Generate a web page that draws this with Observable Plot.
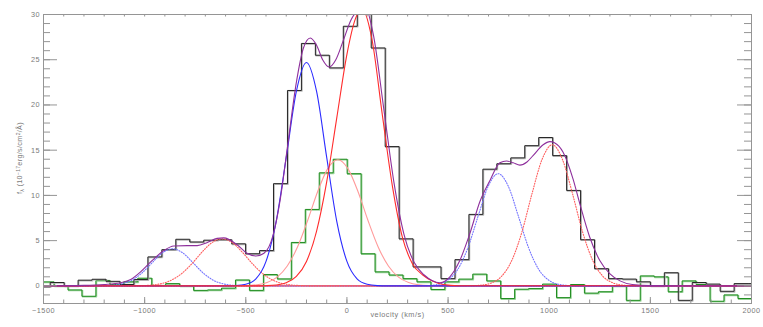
<!DOCTYPE html>
<html><head><meta charset="utf-8">
<script src="https://cdn.jsdelivr.net/npm/d3@7"></script>
<script src="https://cdn.jsdelivr.net/npm/@observablehq/plot@0.6"></script>
<style>body{margin:0;background:#fff} svg{display:block}</style>
</head><body><div id="chart"></div>
<script>
// ---- axis ticks ----
const xTicks = [-1500, -1000, -500, 0, 500, 1000, 1500, 2000];
const xMinorTicks = d3.range(-1500, 2001, 100);
const yTicks = [0, 5, 10, 15, 20, 25, 30];
const yMinorTicks = d3.range(-1, 31, 1);

// ---- observed spectrum (black histogram): bin edges (km/s) and flux ----
const blackEdges = [-1536,-1467,-1398,-1329,-1260,-1191,-1122,-1053,-984,-915,-846,-777,-708,-639,-570,-501,-432,-363,-294,-225,-156,-87,-18,51,120,189,258,327,396,465,534,603,672,741,810,879,948,1017,1086,1155,1224,1293,1362,1431,1500,1569,1638,1707,1776,1845,1914,1983,2052];
const blackFlux = [-0.1,0.37,0.0,0.63,0.73,0.5,0.15,0.7,3.2,4.0,5.15,4.85,5.05,5.1,4.65,3.55,3.9,11.3,21.6,26.8,25.5,24.1,28.7,31,26.3,15.4,5.2,2.1,2.1,0.8,2.9,7.9,12.9,13.5,14.15,15.5,16.4,14.4,10.55,5.1,1.9,0.8,0.75,0.45,0.0,1.45,-1.6,0.37,0.2,-0.6,0.25,0.25];

// ---- second spectrum (green histogram) ----
const greenEdges = [-1517,-1448,-1379,-1310,-1241,-1172,-1103,-1034,-965,-896,-827,-758,-689,-620,-551,-482,-413,-344,-275,-206,-137,-68,1,70,139,208,277,346,415,484,553,622,691,760,829,898,967,1036,1105,1174,1243,1312,1381,1450,1519,1588,1657,1726,1795,1864,1933,2002];
const greenFlux = [0.44,0.0,-0.45,-1.15,0.6,0.15,0.45,0.85,0.05,0.25,0.0,-0.5,-0.45,-0.25,0.65,-0.5,1.25,0.77,4.8,8.45,12.5,14.0,12.4,3.55,1.55,1.2,0.8,0.45,-0.4,0.45,0.75,1.3,0.55,-1.4,-0.37,-0.3,0.2,-1.3,0.15,-0.8,-0.65,0.0,-1.6,1.1,1.0,-0.65,0.55,0.15,-1.7,-1.0,-1.4];

// ---- fitted components ----
const blueSolidV = [-1500,-600,-550,-500,-450,-400,-350,-300,-250,-200,-150,-100,-50,0,50,100,150,200,2000];
const blueSolidF = [0,0,0.03,0.17,0.77,2.7,7.1,14.2,21.5,24.7,21.5,14.2,7.1,2.7,0.77,0.17,0.03,0,0];

const redSolidV = [-1500,-450,-400,-350,-300,-250,-200,-150,-100,-50,0,40,75,125,175,225,275,325,375,425,475,550,2000];
const redSolidF = [0,0,0.02,0.09,0.34,1.04,2.7,6.06,11.5,18.6,25.6,29.4,30.6,27.1,18.9,11.0,5.3,2.4,1.2,0.5,0.15,0.02,0];

const pinkSolidV = [-1500,-550,-495,-445,-395,-345,-295,-245,-195,-145,-95,-45,5,55,105,155,205,255,305,355,405,500,2000];
const pinkSolidF = [0,0,0.035,0.12,0.37,0.97,2.2,4.27,7.17,10.4,12.96,13.95,12.96,10.4,7.17,4.27,2.2,0.97,0.37,0.12,0.035,0,0];

const blueDotLeftV = [-1500,-1262,-1212,-1162,-1112,-1062,-1012,-962,-912,-862,-812,-762,-712,-662,-612,-562,-512,-462,2000];
const blueDotLeftF = [0,0,0.02,0.06,0.23,0.64,1.45,2.58,3.65,4.1,3.65,2.58,1.45,0.64,0.23,0.06,0.02,0,0];

const redDotLeftV = [-1500,-1067,-1017,-967,-917,-867,-817,-767,-717,-667,-617,-567,-517,-467,-417,-367,-317,-267,-217,-167,2000];
const redDotLeftF = [0,0,0.024,0.085,0.25,0.64,1.36,2.44,3.72,4.78,5.2,4.78,3.72,2.44,1.36,0.64,0.25,0.085,0.024,0,0];

const blueDotRightV = [-1500,350,398,448,498,548,598,648,698,748,798,848,898,948,998,1048,1098,1150,2000];
const blueDotRightF = [0,0,0.034,0.16,0.62,1.82,4.21,7.67,11.0,12.4,11.0,7.67,4.21,1.82,0.62,0.16,0.034,0,0];

const redDotRightV = [-1500,560,615,665,715,765,815,865,915,965,1015,1065,1115,1165,1215,1265,1315,1365,1415,1470,2000];
const redDotRightF = [0,0,0.016,0.08,0.33,1.07,2.81,5.95,10.2,14.0,15.6,14.0,10.2,5.95,2.81,1.07,0.33,0.08,0.016,0,0];

const totalV = [-1500,-1300,-1200,-1119,-1069,-1020,-970,-905,-856,-790,-740,-690,-642,-609,-543,-494,-450,-410,-365,-330,-296,-250,-215,-181,-150,-120,-88,-55,-20,20,49,82,132,182,232,282,332,382,420,460,509,558,608,657,707,756,789,822,855,890,920,970,1003,1028,1068,1118,1151,1200,1250,1299,1350,1411,1500,2000];
const totalF = [0,0.05,0.15,0.35,0.7,1.55,2.65,3.9,4.4,4.45,4.45,4.8,5.25,5.3,4.55,3.6,3.3,3.6,5.6,9.5,15.0,22.5,26.3,27.4,26.6,25.0,24.2,25.0,27.0,29.4,30.4,31.2,27.6,19.6,11.5,5.7,2.6,1.2,0.6,0.35,1.0,2.8,5.8,9.3,11.65,13.6,13.8,13.6,13.35,13.7,14.4,15.6,15.95,15.8,14.8,11.8,9.1,5.4,2.8,1.36,0.55,0.15,0.03,0];

// ---- build tables ----
const steps = (edges, vals) => vals.map((f, i) => ({v: edges[i], f})).concat([{v: edges[vals.length], f: vals[vals.length - 1]}]);
const pts = (V, F) => V.map((v, i) => ({v, f: F[i]}));

const blackRows = steps(blackEdges, blackFlux);
const greenRows = steps(greenEdges, greenFlux);

const curve = (V, F, stroke, extra = {}) =>
  Plot.line(pts(V, F), {x: "v", y: "f", stroke, strokeWidth: 1.1, curve: "monotone-x", clip: true, ...extra});

const dotted = {strokeDasharray: "1 1.6", strokeWidth: 1.1};
const tickColor = "#959595";
const textColor = "#7a7a7a";

// frame size (for tick lengths measured in pixels)
const W = 763, H = 327, mL = 43, mR = 12, mT = 14, mB = 24;
const fw = W - mL - mR, fh = H - mT - mB;

const chart = Plot.plot({
  width: W, height: H,
  marginLeft: mL, marginRight: mR, marginTop: mT, marginBottom: mB,
  x: {domain: [-1500, 2000], label: null},
  y: {domain: [-1.95, 30], label: null},
  style: {fontFamily: "'Liberation Sans', Arial, sans-serif", fontSize: "7.3px", color: textColor, background: "#fff", letterSpacing: "0.5px"},
  marks: [
    Plot.ruleY([0], {stroke: "#ff3030", strokeWidth: 1}),
    Plot.line(greenRows, {x: "v", y: "f", curve: "step-after", stroke: "#9bd49b", strokeWidth: 1.5, dx: 0.6, dy: 0.6, clip: true}),
    Plot.line(greenRows, {x: "v", y: "f", curve: "step-after", stroke: "#1f8c1f", strokeWidth: 1, clip: true}),
    Plot.line(blackRows, {x: "v", y: "f", curve: "step-after", stroke: "#b8b8b8", strokeWidth: 1.5, dx: 0.6, dy: 0.6, clip: true}),
    Plot.line(blackRows, {x: "v", y: "f", curve: "step-after", stroke: "#262626", strokeWidth: 1, clip: true}),
    curve(pinkSolidV, pinkSolidF, "#ff9a9a"),
    curve(blueDotLeftV, blueDotLeftF, "#7474ff", dotted),
    curve(blueDotRightV, blueDotRightF, "#7474ff", dotted),
    curve(redDotLeftV, redDotLeftF, "#ff5c5c", dotted),
    curve(redDotRightV, redDotRightF, "#ff5c5c", dotted),
    curve(blueSolidV, blueSolidF, "#2b2bff"),
    curve(redSolidV, redSolidF, "#ff2b2b"),
    curve(totalV, totalF, "#8e2f9c"),
    Plot.frame({stroke: tickColor}),
    // inward ticks (bottom, top, left, right)
    Plot.tickX(xTicks, {x: d => d, stroke: tickColor, insetTop: fh - 6}),
    Plot.tickX(xMinorTicks, {x: d => d, stroke: tickColor, insetTop: fh - 3.5}),
    Plot.tickX(xMinorTicks, {x: d => d, stroke: tickColor, insetBottom: fh - 2.5}),
    Plot.tickY(yTicks, {y: d => d, stroke: tickColor, insetRight: fw - 14}),
    Plot.tickY(yMinorTicks, {y: d => d, stroke: tickColor, insetRight: fw - 7}),
    Plot.tickY(yTicks, {y: d => d, stroke: tickColor, insetLeft: fw - 14}),
    Plot.tickY(yMinorTicks, {y: d => d, stroke: tickColor, insetLeft: fw - 7}),
    // tick labels
    Plot.axisX(xTicks, {anchor: "bottom", tickSize: 0, tickPadding: 4, label: null, fill: textColor, tickFormat: d3.format("d")}),
    Plot.axisY(yTicks, {anchor: "left", tickSize: 0, tickPadding: 3.5, label: null, fill: textColor, tickFormat: d3.format("d")}),
    Plot.text(["velocity (km/s)"], {frameAnchor: "bottom", dy: 13, fill: textColor})
  ]
});

document.getElementById("chart").appendChild(chart);

// y-axis label with sub/superscripts
const svg = d3.select(chart);
const t = svg.append("text")
  .attr("transform", "translate(22,158) rotate(-90)")
  .attr("text-anchor", "middle")
  .attr("fill", textColor)
  .style("font-family", "'Liberation Sans', Arial, sans-serif")
  .style("font-size", "7.3px")
  .style("letter-spacing", "0.3px");
t.append("tspan").text("f");
t.append("tspan").attr("dy", 2).style("font-size", "5px").text("λ");
t.append("tspan").attr("dy", -2).text(" (10");
t.append("tspan").attr("dy", -2.5).style("font-size", "5px").text("−17");
t.append("tspan").attr("dy", 2.5).text("erg/s/cm");
t.append("tspan").attr("dy", -2.5).style("font-size", "5px").text("2");
t.append("tspan").attr("dy", 2.5).text("/Å)");
</script>
</body></html>
